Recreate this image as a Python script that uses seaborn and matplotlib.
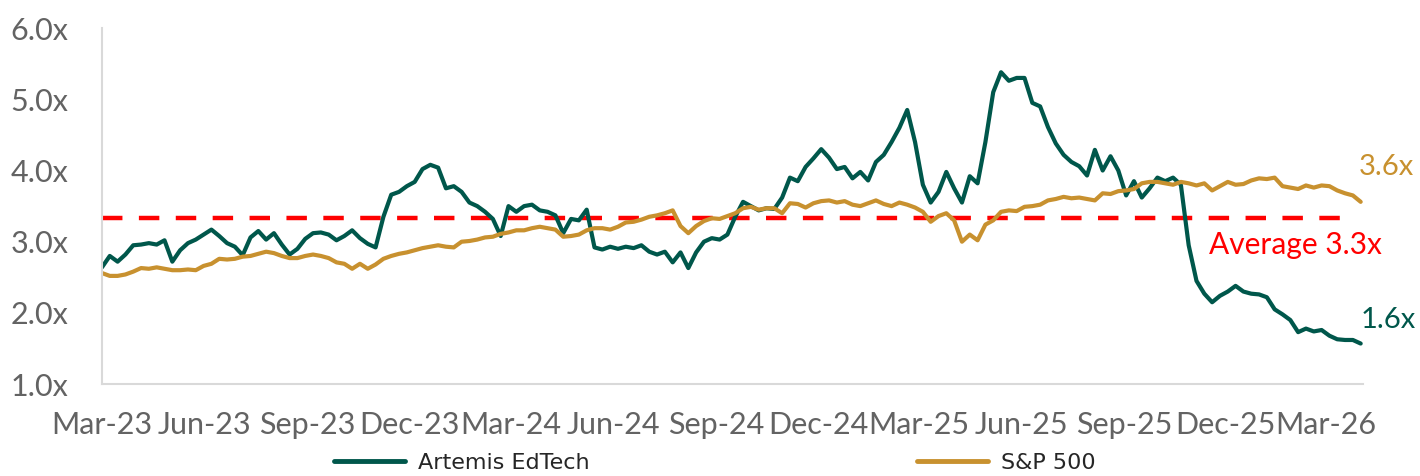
import matplotlib
matplotlib.use("Agg")
import matplotlib.pyplot as plt
import matplotlib.ticker as ticker
import matplotlib.dates as mdates
import seaborn as sns
import pandas as pd
import numpy as np

# weekly valuation multiples (Mar-23 .. Apr-26)
start_date = '2023-03-01'
artemis = [
    2.64, 2.80, 2.72, 2.82, 2.95, 2.96, 2.98, 2.96, 3.02, 2.72,
    2.88, 2.98, 3.03, 3.10, 3.17, 3.08, 2.98, 2.93, 2.81, 3.06,
    3.15, 3.03, 3.12, 2.96, 2.82, 2.90, 3.04, 3.12, 3.13, 3.10,
    3.02, 3.08, 3.16, 3.05, 2.97, 2.92, 3.35, 3.66, 3.70, 3.78,
    3.84, 4.02, 4.08, 4.04, 3.75, 3.78, 3.70, 3.55, 3.50, 3.42,
    3.32, 3.08, 3.50, 3.42, 3.50, 3.52, 3.44, 3.42, 3.37, 3.12,
    3.32, 3.30, 3.45, 2.92, 2.89, 2.93, 2.90, 2.93, 2.91, 2.95,
    2.86, 2.82, 2.86, 2.71, 2.85, 2.63, 2.85, 3.00, 3.05, 3.03,
    3.10, 3.35, 3.56, 3.50, 3.44, 3.47, 3.46, 3.62, 3.90, 3.85,
    4.05, 4.17, 4.30, 4.18, 4.02, 4.05, 3.89, 3.98, 3.86, 4.12,
    4.22, 4.40, 4.60, 4.85, 4.40, 3.80, 3.55, 3.70, 3.98, 3.75,
    3.55, 3.92, 3.82, 4.40, 5.10, 5.38, 5.26, 5.30, 5.30, 4.95,
    4.90, 4.61, 4.38, 4.22, 4.12, 4.06, 3.93, 4.29, 4.00, 4.20,
    4.00, 3.65, 3.85, 3.62, 3.75, 3.90, 3.85, 3.90, 3.80, 2.95,
    2.45, 2.27, 2.15, 2.24, 2.30, 2.38, 2.30, 2.27, 2.26, 2.22,
    2.05, 1.98, 1.90, 1.73, 1.78, 1.74, 1.76, 1.68, 1.63, 1.62,
    1.62, 1.57,
]
sp500 = [
    2.56, 2.52, 2.52, 2.54, 2.58, 2.63, 2.62, 2.64, 2.62, 2.60,
    2.60, 2.61, 2.60, 2.66, 2.69, 2.76, 2.75, 2.76, 2.79, 2.80,
    2.83, 2.86, 2.84, 2.80, 2.77, 2.77, 2.80, 2.82, 2.80, 2.77,
    2.71, 2.69, 2.62, 2.69, 2.62, 2.68, 2.76, 2.80, 2.83, 2.85,
    2.88, 2.91, 2.93, 2.95, 2.93, 2.92, 3.00, 3.01, 3.03, 3.06,
    3.07, 3.11, 3.13, 3.16, 3.16, 3.19, 3.21, 3.19, 3.17, 3.07,
    3.08, 3.10, 3.16, 3.19, 3.19, 3.17, 3.21, 3.27, 3.28, 3.31,
    3.35, 3.37, 3.40, 3.44, 3.22, 3.12, 3.22, 3.29, 3.33, 3.32,
    3.36, 3.40, 3.47, 3.49, 3.45, 3.47, 3.47, 3.40, 3.54, 3.53,
    3.48, 3.54, 3.57, 3.58, 3.55, 3.57, 3.52, 3.50, 3.54, 3.58,
    3.53, 3.50, 3.55, 3.52, 3.48, 3.42, 3.28, 3.36, 3.40, 3.30,
    3.00, 3.10, 3.02, 3.24, 3.30, 3.42, 3.44, 3.43, 3.49, 3.50,
    3.52, 3.58, 3.60, 3.63, 3.61, 3.62, 3.60, 3.58, 3.68, 3.67,
    3.71, 3.72, 3.74, 3.82, 3.84, 3.84, 3.82, 3.80, 3.84, 3.82,
    3.79, 3.82, 3.72, 3.78, 3.84, 3.80, 3.81, 3.86, 3.89, 3.88,
    3.90, 3.78, np.nan, 3.74, 3.79, 3.76, 3.79, 3.78, 3.72, 3.68,
    3.65, 3.56,
]
average = 3.33
tick_dates = ['2023-03-01', '2023-06-01', '2023-09-01', '2023-12-01',
              '2024-03-01', '2024-06-01', '2024-09-01', '2024-12-01',
              '2025-03-01', '2025-06-01', '2025-09-01', '2025-12-01',
              '2026-03-01']
y_ticks = [1, 2, 3, 4, 5, 6]

green = '#00574B'
gold = '#C8912F'
grey = '#636363'

dates = pd.date_range(start_date, periods=len(artemis), freq='7D')
df = pd.DataFrame({'date': dates, 'Artemis EdTech': artemis, 'S&P 500': sp500})

sns.set_style('white')
plt.rcParams['font.family'] = ['Lato', 'DejaVu Sans']

fig = plt.figure(figsize=(14.2, 4.76), dpi=100)
ax = fig.add_axes([0.0718, 0.193, 0.888, 0.748])

sns.lineplot(data=df, x='date', y='Artemis EdTech', color=green, linewidth=3.0, ax=ax)
sns.lineplot(data=df, x='date', y='S&P 500', color=gold, linewidth=3.0, ax=ax)
ax.hlines(average, dates[0], dates[159], colors='#FF0000', linewidth=3.2,
          linestyles=(0, (4.6, 3.7)), zorder=1)

ax.set_xlim(dates[0], dates[-1] + pd.Timedelta(days=2))
ax.set_ylim(1, 6)
ax.set_yticks(y_ticks)
ax.yaxis.set_major_formatter(ticker.FuncFormatter(lambda v, p: f'{v:.1f}x'))
ax.set_xticks(pd.to_datetime(tick_dates))
ax.xaxis.set_major_formatter(mdates.DateFormatter('%b-%y'))
ax.tick_params(axis='y', labelsize=22, colors=grey, length=0, pad=24)
ax.tick_params(axis='x', labelsize=22, colors=grey, length=0, pad=19)
ax.set_xlabel('')
ax.set_ylabel('')

for s in ['top', 'right']:
    ax.spines[s].set_visible(False)
for s in ['left', 'bottom']:
    ax.spines[s].set_color('#D9D9D9')
    ax.spines[s].set_linewidth(1.5)

# end labels (figure pixels, origin bottom-left)
ax.annotate('3.6x', xy=(1386, 309), xycoords='figure pixels', ha='center', va='center',
            fontsize=21, color=gold)
ax.annotate('1.6x', xy=(1388, 156), xycoords='figure pixels', ha='center', va='center',
            fontsize=21, color=green)
ax.annotate('Average 3.3x', xy=(1295, 231), xycoords='figure pixels', ha='center', va='center',
            fontsize=21.5, color='#FF0000')

h1 = plt.Line2D([], [], color=green, linewidth=3.5)
h2 = plt.Line2D([], [], color=gold, linewidth=3.5)
leg_font = {'family': ['Liberation Sans Narrow', 'DejaVu Sans'], 'size': 16}
fig.legend([h1], ['Artemis EdTech'], loc='center left', bbox_to_anchor=(0.221, 0.028),
           frameon=False, prop=leg_font, handlelength=3.2, handletextpad=0.6)
fig.legend([h2], ['S&P 500'], loc='center left', bbox_to_anchor=(0.6315, 0.028),
           frameon=False, prop=leg_font, handlelength=3.2, handletextpad=0.6)

fig.savefig('out.png', dpi=100)
